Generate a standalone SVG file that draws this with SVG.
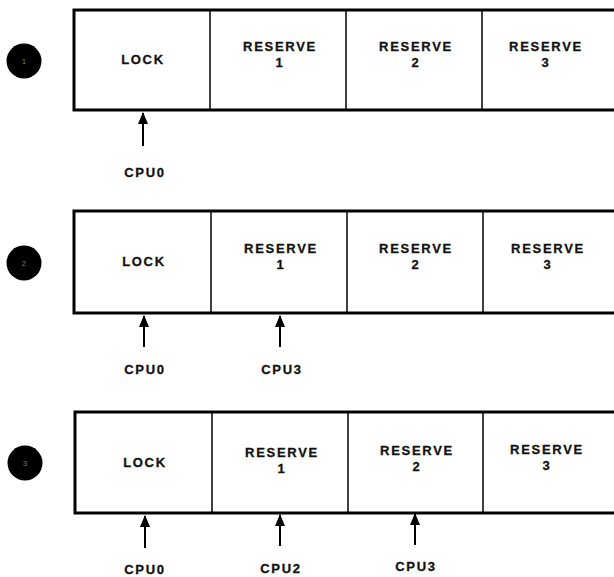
<svg xmlns="http://www.w3.org/2000/svg" width="614" height="577" viewBox="0 0 614 577">
<style>
.frame{fill:none;stroke:#000;stroke-width:3}
.div{stroke:#000;stroke-width:1.5}
.lbl{font-family:"Liberation Sans",Arial,sans-serif;font-weight:bold;font-size:13px;letter-spacing:1.7px;text-anchor:middle;fill:#111;stroke:#111;stroke-width:0.3}
.num{font-family:"Liberation Sans",Arial,sans-serif;font-size:8px;text-anchor:middle;fill:#777}
.arr{stroke:#000;stroke-width:2}
</style>
<defs>
<marker id="ah" viewBox="0 0 12 10" refX="11" refY="5" markerWidth="12" markerHeight="10" markerUnits="userSpaceOnUse" orient="auto">
<path d="M0,0 L12,5 L0,10 Z" fill="#000"/>
</marker>
</defs>
<g id="row1">
<circle cx="24" cy="61" r="17.5" fill="#000"/>
<text class="num" x="24" y="64" fill="#333">1</text>
<path class="frame" d="M616,10 L74,10 L74,110 L616,110"/>
<line class="div" x1="210" y1="10" x2="210" y2="110"/>
<line class="div" x1="346" y1="10" x2="346" y2="110"/>
<line class="div" x1="482" y1="10" x2="482" y2="110"/>
<text class="lbl" x="143" y="64">LOCK</text>
<text class="lbl" x="280" y="51">RESERVE</text><text class="lbl" x="280" y="67">1</text>
<text class="lbl" x="416" y="51">RESERVE</text><text class="lbl" x="416" y="67">2</text>
<text class="lbl" x="546" y="51">RESERVE</text><text class="lbl" x="546" y="67">3</text>
</g>
<g id="row2">
<circle cx="24" cy="263" r="17.5" fill="#000"/>
<text class="num" x="24" y="266">2</text>
<path class="frame" d="M616,211 L74,211 L74,313 L616,313"/>
<line class="div" x1="211" y1="211" x2="211" y2="313"/>
<line class="div" x1="347" y1="211" x2="347" y2="313"/>
<line class="div" x1="483" y1="211" x2="483" y2="313"/>
<text class="lbl" x="144" y="266">LOCK</text>
<text class="lbl" x="281" y="253">RESERVE</text><text class="lbl" x="281" y="269">1</text>
<text class="lbl" x="416" y="253">RESERVE</text><text class="lbl" x="416" y="269">2</text>
<text class="lbl" x="548" y="253">RESERVE</text><text class="lbl" x="548" y="269">3</text>
</g>
<g id="row3">
<circle cx="25" cy="463" r="17.5" fill="#000"/>
<text class="num" x="25" y="466">3</text>
<path class="frame" d="M616,412 L75,412 L75,513 L616,513"/>
<line class="div" x1="212" y1="412" x2="212" y2="513"/>
<line class="div" x1="348" y1="412" x2="348" y2="513"/>
<line class="div" x1="483" y1="412" x2="483" y2="513"/>
<text class="lbl" x="145" y="467">LOCK</text>
<text class="lbl" x="282" y="457">RESERVE</text><text class="lbl" x="282" y="473">1</text>
<text class="lbl" x="417" y="455">RESERVE</text><text class="lbl" x="417" y="471">2</text>
<text class="lbl" x="547" y="454">RESERVE</text><text class="lbl" x="547" y="470">3</text>
</g>
<g id="pointers">
<line class="arr" x1="143" y1="146" x2="143" y2="113" marker-end="url(#ah)"/>
<line class="arr" x1="144" y1="347" x2="144" y2="316" marker-end="url(#ah)"/>
<line class="arr" x1="280" y1="347" x2="280" y2="316" marker-end="url(#ah)"/>
<line class="arr" x1="145" y1="548" x2="145" y2="516" marker-end="url(#ah)"/>
<line class="arr" x1="280" y1="546" x2="280" y2="515" marker-end="url(#ah)"/>
<line class="arr" x1="415" y1="545" x2="415" y2="514" marker-end="url(#ah)"/>
</g>
<g id="cpu-labels">
<text class="lbl" x="145" y="177">CPU0</text>
<text class="lbl" x="145" y="374">CPU0</text>
<text class="lbl" x="282" y="374">CPU3</text>
<text class="lbl" x="145" y="574">CPU0</text>
<text class="lbl" x="281" y="573">CPU2</text>
<text class="lbl" x="416" y="571">CPU3</text>
</g>
</svg>
